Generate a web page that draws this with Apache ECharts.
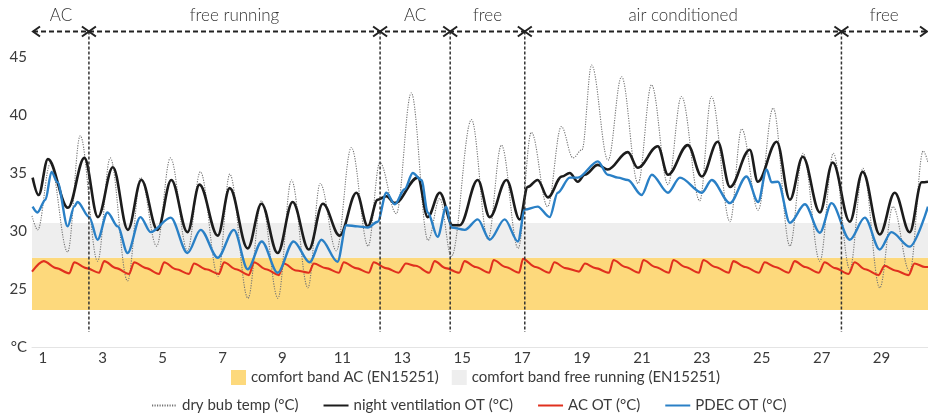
<!DOCTYPE html>
<html><head><meta charset="utf-8">
<script src="https://cdn.jsdelivr.net/npm/echarts@6/dist/echarts.min.js"></script>
<style>html,body{margin:0;padding:0;background:#fff}#c{width:928px;height:416px}</style>
</head><body><div id="c"></div>
<script>
// ---- data (x = day of month, y = °C) ----
const xTickLabels = [1,3,5,7,9,11,13,15,17,19,21,23,25,27,29];
const yTickValues = [20,25,30,35,40,45];
const yUnitLabel = '°C';
const bandAC = [23.2, 27.7];
const bandFree = [27.7, 30.7];
const phaseBounds = [0.64, 2.54, 12.26, 14.60, 17.09, 27.66, 30.55];
const phaseNames = ['AC', 'free running', 'AC', 'free', 'air conditioned', 'free'];

const dryBulb = [[0.64,31.3],[0.83,30.1],[1.25,35.8],[1.83,28.2],[2.25,38.2],[2.83,27.4],[3.25,36.3],[3.83,25.7],[4.27,34.6],[4.80,28.7],[5.26,36.3],[5.83,28.3],[6.26,35.1],[6.85,26.1],[7.24,34.9],[7.85,24.2],[8.30,32.6],[8.85,24.2],[9.30,34.4],[9.85,25.1],[10.26,34.1],[10.80,28.3],[11.30,37.2],[11.86,28.7],[12.25,35.9],[12.80,31.5],[13.30,41.9],[13.86,29.2],[14.25,32.8],[14.64,27.8],[15.31,39.6],[15.86,29.3],[16.31,37.4],[16.87,28.5],[17.31,38.5],[17.85,32.1],[18.31,39.0],[18.70,36.3],[19.00,37.0],[19.32,44.3],[19.87,36.1],[20.32,43.3],[20.87,34.1],[21.32,42.6],[21.87,34.0],[22.32,41.6],[22.93,32.6],[23.32,41.6],[23.94,30.8],[24.33,38.8],[24.88,31.8],[25.38,40.6],[25.94,28.7],[26.38,36.7],[26.94,27.4],[27.39,36.7],[27.94,26.7],[28.38,35.4],[28.94,25.1],[29.38,32.1],[29.94,26.5],[30.39,36.9],[30.55,35.9]];

const nightVent = [[0.66,34.6],[0.86,33.1],[1.17,36.2],[1.84,32.0],[2.39,36.3],[2.84,31.2],[3.34,35.5],[3.84,30.1],[4.29,34.4],[4.83,30.1],[5.29,34.4],[5.83,29.9],[6.23,34.0],[6.84,29.6],[7.24,33.7],[7.84,28.5],[8.30,32.35],[8.84,28.1],[9.34,32.5],[9.88,28.4],[10.35,32.35],[10.91,29.6],[11.47,33.3],[11.85,30.4],[12.18,32.7],[12.47,33.0],[12.75,32.4],[13.52,34.6],[13.85,31.2],[14.25,33.3],[14.68,30.5],[14.92,30.5],[15.52,34.4],[15.92,31.2],[16.48,34.4],[16.92,31.0],[17.19,33.8],[17.52,34.4],[17.86,32.9],[18.33,34.7],[18.59,35.0],[18.86,34.25],[19.09,34.85],[19.53,35.7],[19.86,35.3],[20.53,36.8],[20.86,35.45],[21.53,37.3],[21.87,34.85],[22.53,37.4],[23.00,34.7],[23.53,37.7],[23.94,33.8],[24.60,37.0],[24.87,34.25],[25.50,37.7],[25.94,32.7],[26.37,36.4],[26.94,31.6],[27.37,35.9],[27.94,30.8],[28.37,35.1],[28.94,29.7],[29.44,33.3],[29.94,29.9],[30.34,34.2],[30.55,34.25]];

const acOT = [[0.64,26.5],[1.03,27.4],[1.45,26.8],[1.88,26.35],[2.05,27.3],[2.45,26.8],[2.88,26.4],[3.05,27.4],[3.45,26.8],[3.88,26.3],[4.05,27.3],[4.45,26.8],[4.88,26.3],[5.05,27.3],[5.45,26.7],[5.88,26.3],[6.05,27.2],[6.45,26.7],[6.88,26.3],[7.05,27.3],[7.45,26.7],[7.88,26.2],[8.05,27.3],[8.45,26.7],[8.88,26.2],[9.05,27.2],[9.45,26.6],[9.88,26.4],[10.05,27.2],[10.45,26.8],[10.88,26.4],[11.05,27.3],[11.45,26.8],[11.88,26.4],[12.05,27.3],[12.45,26.8],[12.88,26.4],[13.12,27.2],[13.45,27.0],[13.90,26.4],[14.08,27.4],[14.45,26.8],[14.90,26.4],[15.08,27.4],[15.45,26.9],[15.90,26.4],[16.05,27.5],[16.45,26.9],[16.90,26.4],[17.03,27.6],[17.45,26.9],[17.90,26.4],[18.08,27.3],[18.45,26.8],[18.90,26.5],[19.10,27.2],[19.45,26.8],[19.90,26.4],[20.05,27.5],[20.45,26.9],[20.90,26.4],[21.05,27.5],[21.45,26.9],[21.90,26.4],[22.05,27.5],[22.45,26.9],[22.90,26.4],[23.05,27.5],[23.45,26.9],[23.90,26.4],[24.05,27.4],[24.45,26.9],[24.90,26.4],[25.10,27.3],[25.45,26.9],[25.90,26.4],[26.10,27.4],[26.45,26.9],[26.90,26.4],[27.10,27.3],[27.45,26.8],[27.90,26.3],[28.10,27.3],[28.45,26.7],[28.90,26.2],[29.10,27.0],[29.45,26.6],[29.90,26.2],[30.10,27.2],[30.45,26.9],[30.55,26.9]];

const pdecOT = [[0.66,32.1],[0.82,31.6],[1.09,32.7],[1.29,35.1],[1.49,34.2],[1.83,30.4],[2.05,32.1],[2.16,32.5],[2.55,31.2],[2.83,29.25],[3.16,31.6],[3.50,30.4],[3.83,28.1],[4.26,31.2],[4.60,29.9],[5.27,31.15],[5.83,28.1],[6.27,30.1],[6.84,27.7],[7.38,30.1],[7.84,26.7],[8.31,29.1],[8.84,26.4],[9.37,29.1],[9.91,27.3],[10.30,29.25],[10.84,27.35],[11.13,30.5],[11.51,30.4],[11.85,30.3],[12.18,30.8],[12.47,33.3],[12.75,32.3],[13.08,33.6],[13.35,35.0],[13.64,34.4],[13.85,31.6],[14.18,29.5],[14.47,32.1],[14.64,30.3],[15.09,30.1],[15.52,31.0],[15.92,29.25],[16.42,31.0],[16.86,29.1],[17.09,31.85],[17.52,32.1],[17.92,31.2],[18.19,33.3],[18.59,34.6],[18.86,34.6],[19.53,36.0],[19.86,34.85],[20.20,34.6],[20.53,34.4],[20.99,33.1],[21.33,34.85],[21.87,33.3],[22.27,34.6],[23.00,33.3],[23.33,34.4],[23.94,32.4],[24.49,34.7],[24.88,32.5],[25.16,35.3],[25.33,34.2],[25.54,34.25],[25.94,30.7],[26.44,32.3],[26.94,29.85],[27.33,32.4],[27.94,29.25],[28.44,31.15],[28.94,28.4],[29.33,29.9],[29.94,28.65],[30.55,32.1]];

const chart = echarts.init(document.getElementById('c'), null, {renderer: 'canvas'});
const FONT = 'Lato';
const textCol = '#3a3a3a';

const lineBase = {type: 'line', symbol: 'none', smooth: 0.36, smoothMonotone: 'x', silent: true};

chart.setOption({
  animation: false,
  backgroundColor: '#fff',
  grid: {left: 32, right: 0, top: 57, bottom: 69, containLabel: false},
  xAxis: {
    type: 'value', min: phaseBounds[0], max: phaseBounds[phaseBounds.length - 1],
    axisLine: {show: true, lineStyle: {color: '#e4e4e4', width: 1}},
    axisTick: {show: false},
    splitLine: {show: false},
    axisLabel: {customValues: xTickLabels, color: textCol, fontFamily: FONT, fontSize: 15, margin: 4}
  },
  yAxis: {
    type: 'value', min: yTickValues[0], max: yTickValues[yTickValues.length - 1], interval: 5,
    axisLine: {show: false}, axisTick: {show: false}, splitLine: {show: false},
    axisLabel: {color: textCol, fontFamily: FONT, fontSize: 15, margin: 5,
      formatter: v => v === yTickValues[0] ? yUnitLabel : String(v)}
  },
  legend: [
    {data: [{name: 'comfort band AC (EN15251)', icon: 'rect'}, {name: 'comfort band free running (EN15251)', icon: 'rect'}],
     left: 226, top: 365, itemWidth: 15, itemHeight: 15, itemGap: 13, selectedMode: false,
     textStyle: {color: textCol, fontFamily: FONT, fontSize: 15}},
    {data: ['dry bub temp (°C)', 'night ventilation OT (°C)', 'AC OT (°C)', 'PDEC OT (°C)'],
     left: 146, top: 393, itemWidth: 25, itemHeight: 14, itemGap: 24, selectedMode: false,
     itemStyle: {opacity: 0},
     textStyle: {color: textCol, fontFamily: FONT, fontSize: 15}}
  ],
  series: [
    {name: 'comfort band AC (EN15251)', type: 'line', data: [], color: '#FDD97C',
     itemStyle: {color: '#FDD97C'}, lineStyle: {width: 0}, silent: true,
     markArea: {silent: true, itemStyle: {color: '#FDD97C'}, data: [[{yAxis: bandAC[0]}, {yAxis: bandAC[1]}]]}},
    {name: 'comfort band free running (EN15251)', type: 'line', data: [], color: '#EEEEEE',
     itemStyle: {color: '#EEEEEE'}, lineStyle: {width: 0}, silent: true,
     markArea: {silent: true, itemStyle: {color: '#EEEEEE'}, data: [[{yAxis: bandFree[0]}, {yAxis: bandFree[1]}]]}},
    Object.assign({}, lineBase, {name: 'dry bub temp (°C)', data: dryBulb, color: '#747474',
      lineStyle: {color: '#747474', width: 1.1, type: [1.2, 1.3]}, z: 3}),
    Object.assign({}, lineBase, {name: 'night ventilation OT (°C)', data: nightVent, color: '#1c1c1c',
      lineStyle: {color: '#1c1c1c', width: 2.6}, z: 4}),
    Object.assign({}, lineBase, {name: 'AC OT (°C)', data: acOT, color: '#D8261C', smooth: 0.3,
      lineStyle: {color: '#E0301E', width: 2.1}, z: 5}),
    Object.assign({}, lineBase, {name: 'PDEC OT (°C)', data: pdecOT, color: '#2A7FC4', smooth: 0.32,
      lineStyle: {color: '#2A80C6', width: 2.4}, z: 6})
  ]
});

// ---- phase annotation above the plot ----
const px = v => chart.convertToPixel({xAxisIndex: 0}, v);
const py = t => chart.convertToPixel({yAxisIndex: 0}, t);
const arrowLevel = 47.2, labelLevel = 48.55, dividerBottom = 21.3;
const yA = py(arrowLevel), yL = py(labelLevel), yB = py(dividerBottom);
const g = [];
const xs = phaseBounds.map(px);
xs[0] = xs[0] + 1; xs[xs.length - 1] = xs[xs.length - 1] - 1;
const dark = '#222';
g.push({type: 'line', z: 50, shape: {x1: xs[0], y1: yA, x2: xs[xs.length - 1], y2: yA},
  style: {stroke: dark, lineWidth: 1.8, lineDash: [5, 3]}});
for (let i = 0; i < xs.length - 1; i++) {
  const a = xs[i], b = xs[i + 1];
  g.push({type: 'polyline', z: 51, shape: {points: [[a + 7, yA - 5], [a, yA], [a + 7, yA + 5]]},
    style: {stroke: dark, lineWidth: 2, fill: null}});
  g.push({type: 'polyline', z: 51, shape: {points: [[b - 7, yA - 5], [b, yA], [b - 7, yA + 5]]},
    style: {stroke: dark, lineWidth: 2, fill: null}});
  g.push({type: 'text', z: 51, x: (a + b) / 2, y: yL,
    style: {text: phaseNames[i], fill: '#333', font: '300 17px Lato', align: 'center', verticalAlign: 'middle'}});
}
for (let i = 1; i < xs.length - 1; i++) {
  g.push({type: 'line', z: 49, shape: {x1: xs[i], y1: yA, x2: xs[i], y2: yB},
    style: {stroke: '#333', lineWidth: 1.5, lineDash: [3, 2]}});
}
chart.setOption({graphic: g});
</script>
</body></html>
